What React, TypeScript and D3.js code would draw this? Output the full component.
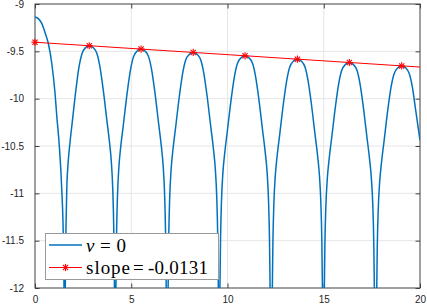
import React, { useRef, useEffect } from "react";
import * as d3 from "d3";

const xTicks = [0, 5, 10, 15, 20];
const yTicks = [-9, -9.5, -10, -10.5, -11, -11.5, -12];

// nu = 0 curve (values under -12 are clipped)
const curveX = [
  0.0, 0.17, 0.35, 0.52, 0.69, 0.87, 1.04, 1.13, 1.26, 1.39, 1.47, 1.51, 1.53,
  1.55, 1.58, 1.61, 1.65, 1.72, 1.82, 1.94, 2.13, 2.29, 2.44, 2.63, 2.82,
  3.02, 3.22, 3.37, 3.54, 3.74, 3.87, 3.97, 4.04, 4.09, 4.12, 4.15, 4.165,
  4.18, 4.21, 4.24, 4.29, 4.36, 4.46, 4.59, 4.79, 4.96, 5.11, 5.31, 5.51,
  5.71, 5.91, 6.06, 6.23, 6.43, 6.56, 6.66, 6.73, 6.78, 6.81, 6.84, 6.865,
  6.89, 6.92, 6.95, 7.0, 7.07, 7.17, 7.3, 7.5, 7.67, 7.82, 8.02, 8.22,
  8.42, 8.62, 8.77, 8.94, 9.14, 9.27, 9.37, 9.44, 9.49, 9.52, 9.55, 9.565,
  9.58, 9.61, 9.64, 9.69, 9.76, 9.86, 9.99, 10.19, 10.36, 10.51, 10.71, 10.91,
  11.11, 11.31, 11.46, 11.63, 11.83, 11.96, 12.06, 12.13, 12.18, 12.21, 12.24, 12.27,
  12.3, 12.33, 12.36, 12.41, 12.48, 12.58, 12.71, 12.91, 13.08, 13.23, 13.43, 13.63,
  13.83, 14.03, 14.18, 14.35, 14.55, 14.68, 14.78, 14.85, 14.9, 14.93, 14.96, 14.98,
  15.0, 15.03, 15.06, 15.11, 15.18, 15.28, 15.41, 15.61, 15.78, 15.93, 16.13, 16.33,
  16.53, 16.73, 16.88, 17.05, 17.25, 17.38, 17.48, 17.55, 17.6, 17.63, 17.66, 17.69,
  17.72, 17.75, 17.78, 17.83, 17.9, 18.0, 18.13, 18.33, 18.5, 18.65, 18.85, 19.05,
  19.25, 19.45, 19.6, 19.77, 20.0,
];
const curveY = [
  -9.137, -9.155, -9.204, -9.3, -9.415, -9.626, -9.94, -10.18, -10.49, -10.96, -11.46, -12.1, -17,
  -12.74, -11.84, -11.36, -10.96, -10.68, -10.46, -10.24, -9.9, -9.66, -9.525, -9.46, -9.44,
  -9.46, -9.525, -9.66, -9.9, -10.24, -10.46, -10.68, -10.96, -11.36, -11.84, -12.74, -17,
  -12.776, -11.876, -11.396, -10.996, -10.716, -10.496, -10.276, -9.936, -9.696, -9.561, -9.496, -9.476,
  -9.496, -9.561, -9.696, -9.936, -10.276, -10.496, -10.716, -10.996, -11.396, -11.876, -12.776, -17,
  -12.812, -11.912, -11.432, -11.032, -10.752, -10.532, -10.312, -9.972, -9.732, -9.597, -9.532, -9.512,
  -9.532, -9.597, -9.732, -9.972, -10.312, -10.532, -10.752, -11.032, -11.432, -11.912, -12.812, -17,
  -12.847, -11.947, -11.467, -11.067, -10.787, -10.567, -10.347, -10.007, -9.767, -9.632, -9.567, -9.547,
  -9.567, -9.632, -9.767, -10.007, -10.347, -10.567, -10.787, -11.067, -11.467, -11.947, -12.847, -17,
  -12.883, -11.983, -11.503, -11.103, -10.823, -10.603, -10.383, -10.043, -9.803, -9.668, -9.603, -9.583,
  -9.603, -9.668, -9.803, -10.043, -10.383, -10.603, -10.823, -11.103, -11.503, -11.983, -12.883, -17,
  -12.918, -12.018, -11.538, -11.138, -10.858, -10.638, -10.418, -10.078, -9.838, -9.703, -9.638, -9.618,
  -9.638, -9.703, -9.838, -10.078, -10.418, -10.638, -10.858, -11.138, -11.538, -12.018, -12.918, -17,
  -12.954, -12.054, -11.574, -11.174, -10.894, -10.674, -10.454, -10.114, -9.874, -9.739, -9.674, -9.654,
  -9.674, -9.739, -9.874, -10.114, -10.44,
];

// fitted line through the peaks
const slopeX = [0, 20];
const slopeY = [-9.404, -9.666];
const markerX = [0, 2.82, 5.51, 8.22, 10.91, 13.63, 16.33, 19.05];
const markerY = [-9.404, -9.441, -9.476, -9.512, -9.547, -9.583, -9.618, -9.654];

const blue = "#0072bd";
const red = "#ff0000";

export default function App() {
  const chartRef = useRef<SVGSVGElement>(null);

  useEffect(() => {
    if (!chartRef.current) return;
    const svg = d3.select(chartRef.current);
    svg.selectAll("*").remove();

    const width = 427;
    const height = 305;
    const margin = { top: 4, right: 7, bottom: 17, left: 35 };
    const innerWidth = width - margin.left - margin.right;
    const innerHeight = height - margin.top - margin.bottom;

    const xScale = d3.scaleLinear().domain([0, 20]).range([0, innerWidth]);
    const yScale = d3.scaleLinear().domain([-12, -9]).range([innerHeight, 0]);

    svg.attr("width", width).attr("height", height);
    svg.append("rect").attr("width", width).attr("height", height).attr("fill", "#fff");

    const g = svg.append("g").attr("transform", `translate(${margin.left},${margin.top})`);

    g.append("clipPath")
      .attr("id", "plot-clip")
      .append("rect")
      .attr("width", innerWidth)
      .attr("height", innerHeight);

    // grid
    g.append("g")
      .selectAll("line")
      .data(xTicks.slice(1, -1))
      .join("line")
      .attr("x1", (d) => xScale(d))
      .attr("x2", (d) => xScale(d))
      .attr("y1", 0)
      .attr("y2", innerHeight)
      .attr("stroke", "#e6e6e6");
    g.append("g")
      .selectAll("line")
      .data(yTicks.slice(1, -1))
      .join("line")
      .attr("x1", 0)
      .attr("x2", innerWidth)
      .attr("y1", (d) => yScale(d))
      .attr("y2", (d) => yScale(d))
      .attr("stroke", "#e6e6e6");

    // axes, MATLAB style with ticks pointing inward
    const tickLen = 4.5;
    const styleAxis = (sel: any) => {
      sel.select(".domain").remove();
      sel.selectAll("line").attr("stroke", "#404040");
      sel.selectAll("text")
        .attr("fill", "#262626")
        .attr("font-size", 10)
        .attr("font-family", "'Liberation Sans', Arial, sans-serif");
    };
    g.append("g")
      .attr("transform", `translate(0,${innerHeight})`)
      .call(d3.axisBottom(xScale).tickValues(xTicks).tickSize(-tickLen).tickSizeOuter(0).tickPadding(8).tickFormat(d3.format("d")))
      .call(styleAxis);
    g.append("g")
      .call(d3.axisTop(xScale).tickValues(xTicks).tickSize(-tickLen).tickSizeOuter(0).tickFormat(() => ""))
      .call(styleAxis);
    g.append("g")
      .call(d3.axisLeft(yScale).tickValues(yTicks).tickSize(-tickLen).tickSizeOuter(0).tickPadding(11).tickFormat((d) => String(d)))
      .call(styleAxis);
    g.append("g")
      .attr("transform", `translate(${innerWidth},0)`)
      .call(d3.axisRight(yScale).tickValues(yTicks).tickSize(-tickLen).tickSizeOuter(0).tickFormat(() => ""))
      .call(styleAxis);

    g.append("rect")
      .attr("width", innerWidth)
      .attr("height", innerHeight)
      .attr("fill", "none")
      .attr("stroke", "#404040")
      .attr("stroke-width", 1);

    // nu = 0 curve
    const curve = d3
      .line<number>()
      .x((d, i) => xScale(curveX[i]))
      .y((d) => yScale(d))
      .curve(d3.curveMonotoneX);
    g.append("path")
      .datum(curveY)
      .attr("clip-path", "url(#plot-clip)")
      .attr("d", curve)
      .attr("fill", "none")
      .attr("stroke", blue)
      .attr("stroke-width", 1.5);

    // slope line and markers
    const straight = d3
      .line<number>()
      .x((d, i) => xScale(slopeX[i]))
      .y((d) => yScale(d));
    g.append("path")
      .datum(slopeY)
      .attr("d", straight)
      .attr("fill", "none")
      .attr("stroke", red)
      .attr("stroke-width", 1);

    const star = (sel: any, cx: number, cy: number) => {
      const r = 3.6;
      const q = r * 0.72;
      const s = sel.append("g").attr("transform", `translate(${cx},${cy})`).attr("stroke", red).attr("stroke-width", 1.1);
      s.append("line").attr("x1", -r).attr("x2", r).attr("y1", 0).attr("y2", 0);
      s.append("line").attr("x1", 0).attr("x2", 0).attr("y1", -r).attr("y2", r);
      s.append("line").attr("x1", -q).attr("x2", q).attr("y1", -q).attr("y2", q);
      s.append("line").attr("x1", -q).attr("x2", q).attr("y1", q).attr("y2", -q);
    };
    markerY.forEach((v, i) => star(g, xScale(markerX[i]), yScale(v)));

    // legend
    const leg = svg.append("g");
    leg.append("rect")
      .attr("x", 45.5)
      .attr("y", 233.5)
      .attr("width", 173)
      .attr("height", 46)
      .attr("fill", "#fff")
      .attr("stroke", "#9a9a9a")
      .attr("stroke-width", 1);
    leg.append("line").attr("x1", 49).attr("x2", 82).attr("y1", 245).attr("y2", 245).attr("stroke", blue).attr("stroke-width", 1.5);
    leg.append("line").attr("x1", 49).attr("x2", 82).attr("y1", 267.5).attr("y2", 267.5).attr("stroke", red).attr("stroke-width", 1);
    star(leg, 65.5, 267.5);

    const serif = "'Liberation Serif', 'Times New Roman', serif";
    const t1 = leg.append("text").attr("y", 251.5).attr("font-family", serif).attr("font-size", 19).attr("fill", "#000");
    t1.append("tspan").attr("x", 86).attr("font-style", "italic").text("ν");
    t1.append("tspan").attr("x", 100).text("=");
    t1.append("tspan").attr("x", 116.5).text("0");
    const t2 = leg.append("text").attr("y", 274).attr("font-family", serif).attr("font-size", 19).attr("fill", "#000");
    t2.append("tspan").attr("x", 86).attr("textLength", 44).attr("lengthAdjust", "spacing").text("slope");
    t2.append("tspan").attr("x", 133).text("=");
    t2.append("tspan").attr("x", 148).attr("textLength", 60).attr("lengthAdjust", "spacing").text("-0.0131");
  }, []);

  return (
    <div style={{ position: "fixed", left: 0, top: 0, width: 427, height: 305 }}>
      <svg ref={chartRef} style={{ display: "block" }}></svg>
    </div>
  );
}
